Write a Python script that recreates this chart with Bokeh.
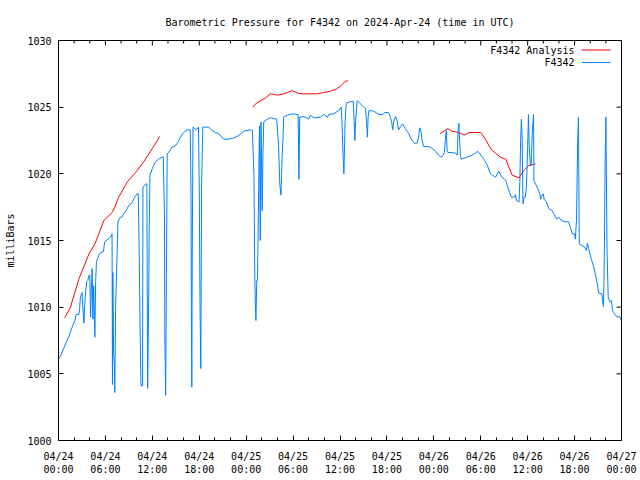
from bokeh.plotting import figure
from bokeh.models import Range1d, FixedTicker, Label, BoxAnnotation
from bokeh.embed import file_html
from bokeh.resources import INLINE

# ---------------- data ----------------
title_text = "Barometric Pressure for F4342 on 2024-Apr-24 (time in UTC)"
y_label = "milliBars"
series_names = ["F4342 Analysis", "F4342"]

tick_hours = [0, 6, 12, 18, 24, 30, 36, 42, 48, 54, 60, 66, 72]
tick_labels = ["04/24\n00:00", "04/24\n06:00", "04/24\n12:00", "04/24\n18:00",
               "04/25\n00:00", "04/25\n06:00", "04/25\n12:00", "04/25\n18:00",
               "04/26\n00:00", "04/26\n06:00", "04/26\n12:00", "04/26\n18:00",
               "04/27\n00:00"]
minor_hours = [2, 4, 8, 10, 14, 16, 20, 22, 26, 28, 32, 34, 38, 40, 44, 46,
               50, 52, 56, 58, 62, 64, 68, 70]
y_ticks = [1000, 1005, 1010, 1015, 1020, 1025, 1030]

# station observations (hours since 2024-04-24 00:00 UTC, mb)
obs_hours = [
    0.0, 0.3, 0.9, 1.3, 1.75, 2.1, 2.25, 2.6, 2.7, 2.8, 3.0, 3.15, 3.25, 3.35, 3.45,
    3.6, 3.75, 3.9, 4.0, 4.1, 4.2, 4.3, 4.4, 4.5, 4.65, 4.75, 4.85, 5.15, 5.4, 5.75,
    5.9, 6.65, 6.85, 6.9, 6.95, 7.05, 7.15, 7.2, 7.3, 7.5, 7.6, 7.9, 8.1, 8.35, 8.8,
    8.95, 9.3, 9.75, 10.05, 10.2, 10.3, 10.45, 10.55, 10.75, 10.8, 11.2, 11.3, 11.4,
    11.55, 11.6, 11.7, 12.0, 12.4, 12.8, 13.25, 13.4, 13.55, 13.6, 13.7, 13.8, 13.9,
    14.3, 14.5, 14.95, 15.2, 15.6, 16.0, 16.45, 16.85, 16.95, 17.0, 17.05, 17.1, 17.2,
    17.6, 17.9, 18.0, 18.1, 18.2, 18.3, 18.45, 19.2, 19.65, 20.1, 20.5, 21.1, 21.8,
    22.4, 22.85, 23.3, 23.7, 24.55, 24.8, 25.0, 25.1, 25.2, 25.25, 25.35, 25.45, 25.7,
    25.8, 25.9, 26.05, 26.15, 26.25, 26.7, 27.1, 27.9, 28.0, 28.15, 28.3, 28.45, 28.6,
    28.75, 28.8, 29.25, 29.9, 30.65, 30.75, 30.85, 31.4, 32.0, 32.2, 32.7, 33.5, 33.9,
    34.4, 34.55, 35.2, 35.85, 36.15, 36.25, 36.4, 36.5, 36.65, 36.8, 37.3, 37.7, 37.8,
    37.9, 38.0, 38.2, 38.6, 39.25, 39.4, 39.5, 39.6, 39.7, 40.3, 41.0, 41.5, 41.7,
    42.2, 42.45, 42.6, 42.75, 42.85, 43.1, 43.3, 43.5, 43.75, 44.0, 44.35, 44.8, 45.2,
    45.5, 45.85, 46.05, 46.2, 46.4, 46.5, 46.7, 47.35, 47.8, 48.2, 48.6, 48.9, 49.2,
    49.35, 49.5, 49.6, 49.7, 49.8, 50.3, 50.8, 51.0, 51.1, 51.2, 51.3, 51.4, 51.5,
    52.0, 52.5, 52.9, 53.3, 53.6, 53.9, 54.4, 54.8, 55.2, 55.5, 55.9, 56.3, 56.7,
    57.0, 57.2, 57.4, 57.7, 57.9, 58.3, 58.45, 58.55, 58.9, 59.0, 59.1, 59.2, 59.3,
    59.4, 59.55, 59.7, 59.85, 60.0, 60.1, 60.2, 60.35, 60.45, 60.6, 60.75, 60.8, 61.0,
    61.3, 61.55, 61.65, 61.85, 62.0, 62.1, 62.4, 62.7, 63.1, 63.35, 63.7, 64.0, 64.3,
    64.85, 65.25, 65.45, 65.7, 66.0, 66.1, 66.25, 66.4, 66.5, 66.6, 67.0, 67.3, 67.5,
    67.65, 67.8, 68.0, 68.2, 68.45, 68.65, 68.9, 69.1, 69.5, 69.6, 69.7, 69.8, 69.9,
    70.0, 70.05, 70.15, 70.3, 70.5, 70.7, 70.85, 71.1, 71.45, 71.75, 72.0]
obs_mb = [
    1006.1, 1006.4, 1007.25, 1007.75, 1008.5, 1009.0, 1009.45, 1009.45, 1009.9, 1010.75,
    1011.1, 1009.6, 1008.8, 1010.2, 1011.0, 1011.9, 1012.0, 1012.4, 1012.4, 1009.25,
    1011.3, 1012.9, 1009.1, 1011.6, 1007.75, 1011.9, 1013.4, 1013.9, 1014.1, 1014.15,
    1014.9, 1015.25, 1015.5, 1004.2, 1012.6, 1006.5, 1005.7, 1003.6, 1009.9, 1014.1,
    1016.4, 1016.75, 1016.75, 1017.0, 1017.4, 1017.6, 1017.75, 1018.25, 1018.5, 1018.5,
    1014.9, 1007.75, 1004.1, 1004.1, 1019.0, 1019.25, 1019.25, 1003.9, 1011.5, 1015.9,
    1019.9, 1020.4, 1020.9, 1021.1, 1021.25, 1021.25, 1016.9, 1007.9, 1003.4, 1012.3,
    1021.5, 1021.75, 1022.0, 1022.1, 1022.3, 1022.75, 1023.1, 1023.3, 1023.3, 1018.5,
    1008.75, 1004.0, 1013.5, 1023.5, 1023.3, 1023.5, 1019.0, 1010.0, 1005.4, 1019.0,
    1023.5, 1023.5, 1023.25, 1023.1, 1023.0, 1022.6, 1022.6, 1022.7, 1022.8, 1023.0,
    1023.2, 1023.3, 1023.25, 1019.75, 1012.5, 1009.6, 1009.0, 1012.0, 1012.0, 1023.6,
    1015.0, 1023.9, 1017.25, 1021.6, 1023.9, 1024.1, 1024.2, 1024.1, 1023.4, 1022.0,
    1019.25, 1018.4, 1021.25, 1023.25, 1024.25, 1024.4, 1024.5, 1024.45, 1019.6, 1024.25,
    1024.3, 1024.1, 1024.4, 1024.2, 1024.25, 1024.45, 1024.25, 1024.45, 1024.5, 1024.75,
    1025.0, 1023.9, 1021.25, 1020.0, 1023.9, 1025.3, 1025.4, 1025.45, 1024.0, 1022.5,
    1024.0, 1025.5, 1025.25, 1024.9, 1023.9, 1022.75, 1024.25, 1024.75, 1024.7, 1024.45,
    1024.45, 1024.6, 1024.6, 1024.25, 1023.9, 1023.3, 1023.9, 1024.3, 1024.0, 1023.3,
    1023.55, 1023.75, 1023.4, 1023.0, 1022.5, 1022.3, 1022.3, 1022.75, 1023.45, 1023.1,
    1022.5, 1022.05, 1022.05, 1021.9, 1021.7, 1021.4, 1021.25, 1021.4, 1021.6, 1022.75,
    1023.25, 1021.7, 1021.6, 1021.6, 1021.55, 1021.4, 1023.25, 1023.8, 1022.5, 1021.4,
    1021.1, 1021.2, 1021.3, 1021.4, 1021.55, 1021.7, 1021.5, 1021.1, 1020.7, 1020.05,
    1019.9, 1019.75, 1020.2, 1019.75, 1019.6, 1019.5, 1019.1, 1018.6, 1018.25, 1018.25,
    1018.45, 1018.0, 1017.9, 1019.4, 1022.5, 1024.1, 1022.5, 1017.75, 1018.25, 1018.25,
    1019.1, 1022.0, 1024.45, 1022.1, 1020.6, 1020.7, 1023.25, 1024.45, 1019.5, 1019.25,
    1018.9, 1018.5, 1018.1, 1018.4, 1018.5, 1018.1, 1017.9, 1017.4, 1017.25, 1017.0,
    1016.6, 1016.75, 1016.5, 1016.4, 1016.4, 1016.0, 1015.5, 1015.5, 1015.1, 1016.6,
    1022.6, 1024.25, 1014.75, 1014.6, 1014.5, 1014.25, 1014.8, 1014.4, 1013.9, 1013.5,
    1013.0, 1012.5, 1011.75, 1011.05, 1011.0, 1010.4, 1010.05, 1013.6, 1020.6, 1024.25,
    1020.9, 1014.25, 1010.75, 1010.4, 1010.5, 1009.75, 1009.5, 1009.25, 1009.3, 1009.0]

# analysis segments
ana1_hours = [0.8, 1.53, 2.6, 3.9, 4.7, 5.8, 6.85, 7.2, 7.7, 8.8, 9.85, 10.9, 12.0, 12.95]
ana1_mb = [1009.2, 1010.0, 1012.1, 1014.0, 1014.8, 1016.5, 1017.1, 1017.5, 1018.25,
           1019.4, 1020.1, 1020.9, 1021.9, 1022.8]
ana2_hours = [24.85, 25.3, 25.9, 26.5, 27.1, 28.0, 28.8, 29.9, 30.6, 31.2, 32.2, 33.1,
              33.9, 34.8, 35.5, 36.1, 36.6, 37.0]
ana2_mb = [1025.0, 1025.3, 1025.5, 1025.7, 1026.0, 1025.9, 1026.0, 1026.25, 1026.05,
           1026.0, 1026.0, 1026.0, 1026.1, 1026.2, 1026.35, 1026.6, 1026.9, 1027.0]
ana3_hours = [48.8, 49.8, 50.3, 51.2, 51.9, 52.5, 54.0, 54.6, 55.2, 55.5, 56.5, 57.2,
              58.0, 58.9, 59.5, 60.1, 61.0]
ana3_mb = [1023.0, 1023.4, 1023.2, 1023.1, 1022.9, 1023.1, 1023.1, 1022.6, 1021.95,
           1021.75, 1021.25, 1021.1, 1019.9, 1019.7, 1020.25, 1020.6, 1020.75]

RED = "#ff0000"
BLUE = "#0080ff"
FONT = "DejaVu Sans Mono"
FS = "10px"

X0, X1 = 0, 72
Y0, Y1 = 1000, 1030
FRAME_W, FRAME_H = 563, 400
MAJ, MIN = 5, 3  # tick lengths, px

p = figure(width=640, height=480, output_backend="svg", toolbar_location=None,
           x_range=Range1d(X0, X1), y_range=Range1d(Y0, Y1),
           min_border_left=58, min_border_right=19, min_border_top=40,
           min_border_bottom=40, title=title_text)
p.background_fill_color = "white"
p.border_fill_color = "white"
p.outline_line_color = "black"
p.outline_line_width = 1
p.xgrid.visible = False
p.ygrid.visible = False

p.title.text_font = FONT
p.title.text_font_size = FS
p.title.text_font_style = "normal"
p.title.text_color = "black"
p.title.align = "center"
p.title.standoff = 26

xt = FixedTicker(ticks=tick_hours, minor_ticks=minor_hours)
yt = FixedTicker(ticks=y_ticks, minor_ticks=[])
overrides = {h: lab for h, lab in zip(tick_hours, tick_labels)}

def style(ax):
    ax.axis_line_color = "black"
    ax.major_tick_line_color = "black"
    ax.minor_tick_line_color = "black"
    ax.major_tick_in = MAJ
    ax.major_tick_out = 0
    ax.minor_tick_in = MIN
    ax.minor_tick_out = 0
    ax.major_label_text_font = FONT
    ax.major_label_text_color = "black"
    ax.major_label_text_font_size = FS

xa = p.xaxis[0]
xa.ticker = xt
xa.major_label_overrides = overrides
style(xa)
xa.major_label_standoff = 10

ya = p.yaxis[0]
ya.ticker = yt
style(ya)
ya.major_label_standoff = 7
ya.axis_label = y_label
ya.axis_label_text_font = FONT
ya.axis_label_text_font_size = FS
ya.axis_label_text_font_style = "normal"
ya.axis_label_text_color = "black"
ya.axis_label_standoff = 8

# mirrored ticks on the top and right borders (gnuplot style)
dx = (X1 - X0) / FRAME_W
dy = (Y1 - Y0) / FRAME_H
p.segment(x0=tick_hours, y0=[Y1] * len(tick_hours), x1=tick_hours,
          y1=[Y1 - MAJ * dy] * len(tick_hours), line_color="black", line_width=1)
p.segment(x0=minor_hours, y0=[Y1] * len(minor_hours), x1=minor_hours,
          y1=[Y1 - MIN * dy] * len(minor_hours), line_color="black", line_width=1)
p.segment(x0=[X1] * len(y_ticks), y0=y_ticks, x1=[X1 - MAJ * dx] * len(y_ticks),
          y1=y_ticks, line_color="black", line_width=1)

p.line(ana1_hours, ana1_mb, line_color=RED, line_width=1)
p.line(ana2_hours, ana2_mb, line_color=RED, line_width=1)
p.line(ana3_hours, ana3_mb, line_color=RED, line_width=1)
p.line(obs_hours, obs_mb, line_color=BLUE, line_width=1)

# legend (gnuplot style: text then sample)
for i, (name, col) in enumerate(zip(series_names, [RED, BLUE])):
    yy = 390.5 - 12.5 * i
    p.add_layout(Label(x=516, y=yy, x_units="screen", y_units="screen", text=name,
                       text_align="right", text_baseline="middle", text_font=FONT,
                       text_font_size=FS, text_color="black"))
    p.add_layout(BoxAnnotation(left=523, right=552, bottom=yy - 0.5, top=yy + 0.5,
                               left_units="screen", right_units="screen",
                               bottom_units="screen", top_units="screen",
                               fill_color=col, fill_alpha=1, line_color=None))

open("out.html", "w").write(file_html(p, INLINE))
